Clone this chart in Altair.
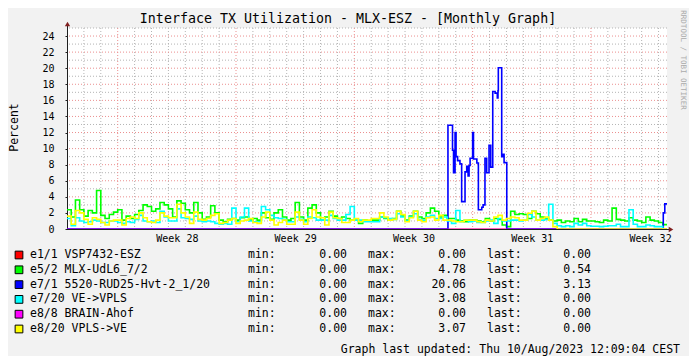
import json
import altair as alt
import pandas as pd

# ---------------- data ----------------
STEP = 0.25          # days per sample (6 h)
END_DAY = 35.5       # Thu 10/Aug/2023 12:09 relative to start (days)

green = [2.4, 1.5, 3.6, 2.4, 1.6, 2.3, 2.0, 4.78, 1.7, 1.3, 1.8, 2.1,
         2.4, 1.1, 1.6, 1.3, 1.8, 2.3, 3.0, 2.8, 2.2, 2.5, 3.3, 3.0, 2.5, 1.5, 3.5, 3.2, 2.4, 2.0, 3.3, 2.0, 1.2, 1.5, 2.9, 2.0, 1.1, 0.9, 1.2, 1.3,
         1.1, 1.4, 1.5, 1.1, 1.3, 1.1, 2.0, 1.4, 1.2, 2.0, 2.4, 1.5, 1.1, 1.3, 3.3, 1.5, 1.1, 2.6, 3.0, 2.0, 1.1, 1.5, 2.2, 1.6, 1.3, 1.5, 1.3, 1.1,
         1.1, 0.7, 1.1, 1.0, 1.1, 1.1, 1.5, 1.3, 1.1, 1.3, 2.2, 1.6, 1.1, 1.6, 2.2, 1.5, 1.3, 2.0, 2.6, 2.2, 1.5, 1.7, 1.3, 1.3, 1.1, 1.0, 0.9, 1.1,
         1.1, 1.0, 0.9, 1.3, 1.0, 1.3, 1.2, 0.5, 0.3, 2.2, 1.8, 1.9, 1.8, 1.3, 2.2, 1.9, 1.5, 1.3, 1.1, 1.0, 1.1, 0.8, 1.0, 0.9, 1.3, 0.9, 1.2, 1.0,
         1.0, 0.9, 0.8, 1.1, 1.0, 2.6, 1.2, 1.1, 1.0, 1.4, 1.1, 1.0, 0.8, 1.5, 1.1, 1.0, 0.8, 0.54]

cyan = [1.3, 0.4, 1.4, 1.0, 0.8, 0.9, 1.1, 1.0, 0.8, 0.8, 1.0, 1.0,
        0.8, 0.7, 0.9, 0.8, 1.2, 1.7, 1.0, 0.9, 1.0, 0.8, 2.2, 1.5, 1.0, 1.0, 2.5, 1.4, 1.3, 1.2, 1.6, 1.0, 0.9, 1.0, 0.9, 0.7, 0.6, 0.7, 0.6, 2.6,
        0.9, 1.5, 2.6, 1.0, 0.9, 0.9, 2.8, 2.4, 1.7, 1.4, 1.3, 1.2, 0.9, 0.9, 1.5, 1.2, 0.9, 1.5, 1.4, 1.1, 1.1, 1.1, 1.7, 1.3, 1.1, 1.1, 1.8, 2.8,
        1.1, 1.1, 0.9, 0.9, 0.9, 0.9, 1.5, 1.4, 1.3, 1.2, 1.9, 1.5, 1.0, 1.5, 1.9, 1.2, 1.1, 1.5, 1.7, 1.3, 1.3, 1.5, 1.0, 0.7, 2.3, 0.9, 1.1, 0.9,
        1.0, 0.8, 0.8, 1.0, 1.1, 0.7, 1.3, 1.0, 1.0, 1.1, 1.1, 1.0, 1.1, 1.8, 1.5, 1.1, 1.1, 1.2, 3.08, 0.7, 0.4, 0.3, 0.4, 0.3, 0.7, 0.5, 0.7, 0.4,
        0.35, 0.35, 0.3, 0.35, 0.4, 0.4, 0.6, 0.3, 0.3, 2.4, 0.6, 0.3, 0.3, 0.5, 0.4, 0.3, 0.3, 0.0]

yellow = [1.6, 0.6, 2.3, 2.0, 1.2, 0.6, 1.4, 1.2, 0.8, 0.5, 1.0, 1.1,
          1.1, 0.5, 1.3, 1.5, 1.3, 2.0, 1.4, 0.9, 0.8, 1.1, 2.0, 1.6, 1.4, 1.4, 3.07, 2.0, 1.5, 0.7, 2.1, 1.2, 1.1, 1.3, 1.7, 1.9, 0.7, 0.8, 1.1, 1.3,
          0.7, 1.0, 1.1, 1.3, 0.8, 0.7, 1.5, 2.1, 1.1, 0.5, 0.8, 1.1, 0.6, 0.6, 2.1, 1.1, 0.6, 1.3, 2.4, 1.5, 1.4, 0.5, 2.1, 1.4, 1.3, 0.8, 0.8, 1.1,
          1.3, 0.9, 1.1, 1.1, 1.3, 1.3, 2.0, 1.5, 1.1, 1.2, 2.2, 1.8, 0.9, 1.4, 2.2, 1.1, 0.9, 1.4, 1.5, 1.1, 1.7, 1.1, 1.1, 1.0, 0.9, 0.9, 1.1, 1.1,
          1.1, 0.9, 0.8, 1.1, 1.0, 1.5, 1.7, 1.1, 1.3, 1.5, 1.4, 1.1, 1.1, 1.95, 2.2, 1.1, 1.3, 1.5, 1.1, 0.3, 0.0, 0.0, 0.0, 0.0, 0.0, 0.0, 0.0, 0.0,
          0.0, 0.0, 0.0, 0.0, 0.0, 0.0, 0.0, 0.0, 0.0, 0.0, 0.0, 0.0, 0.0, 0.0, 0.0, 0.0, 0.0, 0.0]

red = [0.0]
magenta = [0.0]

blue_days = [0.0, 22.54, 22.81, 22.87, 22.96, 23.02, 23.11, 23.25, 23.35, 23.55, 23.65, 23.73, 23.79, 23.85,
             24.0, 24.05, 24.25, 24.34, 24.54, 24.62, 24.73, 24.83, 24.97, 25.07, 25.19, 25.33, 25.46, 25.50,
             25.52, 25.72, 25.81, 25.86, 26.02, 35.28, 35.37]
blue_vals = [0.0, 12.9, 9.8, 7.0, 12.0, 9.0, 8.5, 8.1, 3.4, 7.1, 7.8, 6.6, 7.9, 8.8,
             12.0, 8.7, 8.2, 2.4, 2.7, 3.0, 8.8, 7.0, 10.4, 7.7, 17.1, 16.9, 16.3, 17.2,
             20.06, 9.0, 9.3, 8.25, 0.0, 2.0, 3.13]

series_names = ["e1/1 VSP7432-ESZ", "e5/2 MLX-UdL6_7/2", "e7/1 5520-RUD25-Hvt-2_1/20",
                "e7/20 VE->VPLS", "e8/8 BRAIN-Ahof", "e8/20 VPLS->VE"]
series_colors = ["#FF0000", "#00FF00", "#0000FF", "#00FFFF", "#FF00FF", "#FFFF00"]
stat_min = [0.00, 0.00, 0.00, 0.00, 0.00, 0.00]
stat_max = [0.00, 4.78, 20.06, 3.08, 0.00, 3.07]
stat_last = [0.00, 0.54, 3.13, 0.00, 0.00, 0.00]

week_bounds = [3, 10, 17, 24, 31]
week_centers = [6.5, 13.5, 20.5, 27.5, 34.5]
week_labels = ["Week 28", "Week 29", "Week 30", "Week 31", "Week 32"]
day_lines = [d for d in range(1, 36) if d not in week_bounds]
y_major = list(range(2, 25, 2))
y_minor = list(range(1, 26, 2))
y_ticks = list(range(0, 25, 2))

title_text = "Interface TX Utilization - MLX-ESZ - [Monthly Graph]"
footer_text = "Graph last updated: Thu 10/Aug/2023 12:09:04 CEST"
ylabel_text = "Percent"
watermark_text = "RRDTOOL / TOBI OETIKER"

MONO = "DejaVu Sans Mono"

# ---------------- helpers ----------------
def regular(vals):
    days = [i * STEP for i in range(len(vals))] + [END_DAY]
    return pd.DataFrame({"day": days, "value": list(vals) + [vals[-1]]})

def flat(vals):
    return pd.DataFrame({"day": [0.0, END_DAY], "value": [vals[0], vals[0]]})

blue_df = pd.DataFrame({"day": blue_days + [END_DAY], "value": blue_vals + [blue_vals[-1]]})

x_scale = alt.Scale(domain=[0, END_DAY], nice=False, zero=False)
y_scale = alt.Scale(domain=[0, 25], nice=False)

label_expr = "{}[indexof({}, datum.value)]".format(json.dumps(week_labels), json.dumps(week_centers))
x_axis = alt.Axis(values=week_centers, labelExpr=label_expr, grid=False, ticks=False, domain=False,
                  labelFont=MONO, labelFontSize=10, labelColor="black", labelPadding=4,
                  labelFlush=False, labelOverlap=False, title="")
y_axis = alt.Axis(values=y_ticks, grid=False, domain=False, ticks=True, tickSize=2, tickColor="#1F1F1F",
                  labelFont=MONO, labelFontSize=10, labelColor="black", labelPadding=11, title="")

X = alt.X("day:Q", scale=x_scale, axis=x_axis)
Y = alt.Y("value:Q", scale=y_scale, axis=y_axis)

def vgrid(days, color):
    return alt.Chart(pd.DataFrame({"day": days})).mark_rule(
        color=color, strokeWidth=1, strokeDash=[1, 2]).encode(x=X)

def hgrid(vals, color):
    return alt.Chart(pd.DataFrame({"value": vals})).mark_rule(
        color=color, strokeWidth=1, strokeDash=[1, 2]).encode(y=Y)

def line(df, color, opacity=1.0):
    return alt.Chart(df).mark_line(interpolate="step-after", color=color, strokeWidth=1.6,
                                   strokeOpacity=opacity, clip=True).encode(x=X, y=Y)

one = pd.DataFrame({"k": [0]})

axis_v = alt.Chart(one).mark_rule(color="#1F1F1F", strokeWidth=1).encode(
    x=alt.value(0.5), y=alt.value(-4), y2=alt.value(201.5))
axis_h = alt.Chart(one).mark_rule(color="#1F1F1F", strokeWidth=1).encode(
    x=alt.value(0), x2=alt.value(603), y=alt.value(201.5))
arrow_up = alt.Chart(one).mark_point(shape="triangle-up", filled=True, size=28, color="#801F1F", opacity=1).encode(
    x=alt.value(0.5), y=alt.value(-4))
arrow_right = alt.Chart(one).mark_point(shape="triangle-right", filled=True, size=28, color="#801F1F", opacity=1).encode(
    x=alt.value(604), y=alt.value(201.5))

main = alt.layer(
    vgrid(day_lines, "#B4B4B4"),
    hgrid(y_minor, "#B4B4B4"),
    vgrid(week_bounds, "#EB8F8F"),
    hgrid(y_major, "#EB8F8F"),
    axis_v, axis_h,
    line(flat(red), series_colors[0], 0.5),
    line(regular(green), series_colors[1]),
    line(blue_df, series_colors[2]),
    line(regular(cyan), series_colors[3]),
    line(flat(magenta), series_colors[4], 0.5),
    line(regular(yellow), series_colors[5]),
    arrow_up, arrow_right,
)

# ---------------- legend ----------------
leg = pd.DataFrame({
    "row": list(range(len(series_names))),
    "name": series_names,
    "mn": stat_min,
    "mx": stat_max,
    "last": stat_last,
    "minl": ["min:"] * 6,
    "maxl": ["max:"] * 6,
    "lastl": ["last:"] * 6,
})
LY = alt.Y("row:Q", scale=alt.Scale(domain=[0, 5], range=[227, 301]), axis=None)

def ltext(field, x, align, fmt=None):
    t = alt.Text(field + ":Q", format=fmt) if fmt else alt.Text(field + ":N")
    return alt.Chart(leg).mark_text(align=align, baseline="middle", font=MONO, fontSize=11.5,
                                    color="black").encode(x=alt.value(x), y=LY, text=t)

squares = alt.Chart(leg).mark_square(size=60, filled=True, stroke="black", strokeWidth=1, opacity=1).encode(
    x=alt.value(-48), y=LY,
    color=alt.Color("name:N", scale=alt.Scale(domain=series_names, range=series_colors), legend=None))

legend = alt.layer(
    squares,
    ltext("name", -37, "left"),
    ltext("minl", 181, "left"),
    ltext("mn", 280, "right", ".2f"),
    ltext("maxl", 301, "left"),
    ltext("mx", 399, "right", ".2f"),
    ltext("lastl", 420, "left"),
    ltext("last", 524, "right", ".2f"),
)

def free_text(txt, x, y, size, align="center", angle=0, color="black"):
    return alt.Chart(pd.DataFrame({"t": [txt]})).mark_text(
        align=align, baseline="middle", font=MONO, fontSize=size, angle=angle, color=color).encode(
        x=alt.value(x), y=alt.value(y), text="t:N")

title = free_text(title_text, 281, -9, 13.3)
ylabel = free_text(ylabel_text, -52, 99.5, 11.5, angle=270)
footer = free_text(footer_text, 613, 322, 11.5, align="right")
watermark = free_text(watermark_text, 616, 32, 7.5, angle=90, color="#AAAAAA")

chart = alt.layer(main, legend, title, ylabel, footer, watermark).resolve_scale(
    x="independent", y="independent"
).properties(
    width=600, height=201,
    autosize=alt.AutoSizeParams(type="none"),
    padding={"left": 59, "top": 20, "right": 22, "bottom": 127},
    background="#F2F2F2",
).configure_view(fill="white", strokeWidth=0)

chart.save("out.html", embed_options={"renderer": "svg", "actions": False})
